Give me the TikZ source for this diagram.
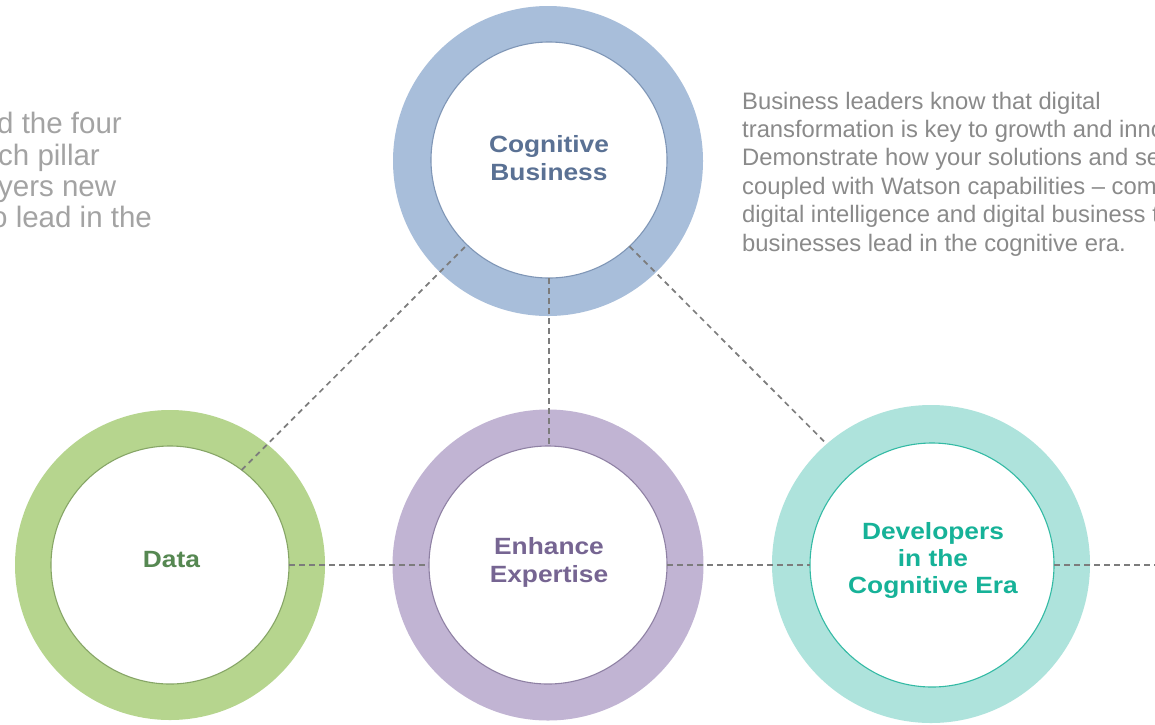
\documentclass[tikz,border=0pt]{standalone}
\usepackage{fontspec}
\setmainfont{Liberation Sans}
\newfontfamily\labfont{Liberation Sans}[FakeStretch=1.12]
\definecolor{ringblue}{HTML}{A8BEDA}
\definecolor{ringgreen}{HTML}{B6D58E}
\definecolor{ringpurple}{HTML}{C1B4D3}
\definecolor{ringteal}{HTML}{AEE3DC}
\definecolor{lineblue}{HTML}{7F96B6}
\definecolor{linegreen}{HTML}{86A566}
\definecolor{linepurple}{HTML}{8F81A4}
\definecolor{lineteal}{HTML}{33BAA4}
\definecolor{txtblue}{HTML}{5A7194}
\definecolor{txtgreen}{HTML}{568852}
\definecolor{txtpurple}{HTML}{766592}
\definecolor{txtteal}{HTML}{16B298}
\definecolor{conngray}{HTML}{7C7C7C}
\definecolor{righttxt}{HTML}{8A8A8A}
\definecolor{lefttxt}{HTML}{A3A3A3}
\begin{document}
\begin{tikzpicture}[x=1pt,y=-1pt,
  outring/.style={circle,inner sep=0pt,outer sep=0pt,minimum size=#1},
  inring/.style={circle,inner sep=0pt,outer sep=0pt,minimum size=#1,fill=white,line width=1.1pt},
  conn/.style={draw=conngray,line width=1.7pt,dash pattern=on 5.5pt off 4.5pt},
  labtext/.style={align=center,inner sep=0pt,font=\labfont\bfseries\fontsize{23.5}{28}\selectfont},
  rtext/.style={inner sep=0pt,text=righttxt,font=\fontsize{23.8}{28}\selectfont},
  ltext/.style={inner sep=0pt,text=lefttxt,font=\fontsize{29.5}{31}\selectfont}]
\useasboundingbox (0,0) rectangle (1155,724);
\clip (0,0) rectangle (1155,724);
\fill[white] (0,0) rectangle (1155,724);

% rings (first three)
\node[outring=310pt,fill=ringblue] (cogout) at (548,161) {};
\node[inring=236pt,draw=lineblue] (cogin) at (549,160) {};
\node[outring=310pt,fill=ringgreen] (dataout) at (170,565) {};
\node[inring=238pt,draw=linegreen] (datain) at (170,565) {};
\node[outring=311pt,fill=ringpurple] (enhout) at (548,565) {};
\node[inring=238pt,draw=linepurple] (enhin) at (548,565) {};

% teal ring: outer disc is placed first so the diagonal can end on it
\node[outring=318pt] (devout) at (931,564) {};

% connectors
\draw[conn] (datain.53) -- (cogin.226);
\draw[conn] (cogin.south) -- (cogin.south |- enhin.north);
\draw[conn] (cogin.-47) -- (devout.131);

% teal ring drawn over the diagonal
\fill[ringteal] (devout.center) circle[radius=159pt];
\node[inring=244pt,draw=lineteal] (devin) at (932,565) {};

% horizontal connectors
\draw[conn] (datain.east) -- (enhin.west);
\draw[conn] (enhin.east) -- (devin.west);
\coordinate (rightend) at (1162,565);
\draw[conn] (devin.east) -- (rightend);

% circle labels
\node[labtext,text=txtblue] (cogtxt) at (549,158.5) {Cognitive\\Business};
\node[labtext,text=txtgreen] (datatxt) at (171.5,559.5) {Data};
\node[labtext,text=txtpurple] (enhtxt) at (549,562.5) {Enhance\\Expertise};
\node[labtext,text=txtteal,font=\labfont\bfseries\fontsize{23.5}{27}\selectfont] (devtxt) at (933,560) {Developers\\in the\\Cognitive Era};

% right text block (cut by the right edge)
\node[rtext,anchor=base west] (r1) at (742,109) {Business leaders know that digital};
\node[rtext,anchor=base west] (r2) at (742,137.4) {transformation is key to growth and inno};
\node[rtext,anchor=base west] (r3) at (742,165.8) {Demonstrate how your solutions and se};
\node[rtext,anchor=base west] (r4) at (742,194.2) {coupled with Watson capabilities – com};
\node[rtext,anchor=base west] (r5) at (742,222.6) {digital intelligence and digital business t};
\node[rtext,anchor=base west] (r6) at (742,251) {businesses lead in the cognitive era.};

% left text block (cut by the left edge)
\node[ltext,anchor=base west] (l1) at (-3,133) {d the four};
\node[ltext,anchor=base west] (l2) at (-2,165) {ch pillar};
\node[ltext,anchor=base west] (l3) at (-2,196) {yers new};
\node[ltext,anchor=base west] (l4) at (-9,227) {o lead in the};
\end{tikzpicture}
\end{document}
